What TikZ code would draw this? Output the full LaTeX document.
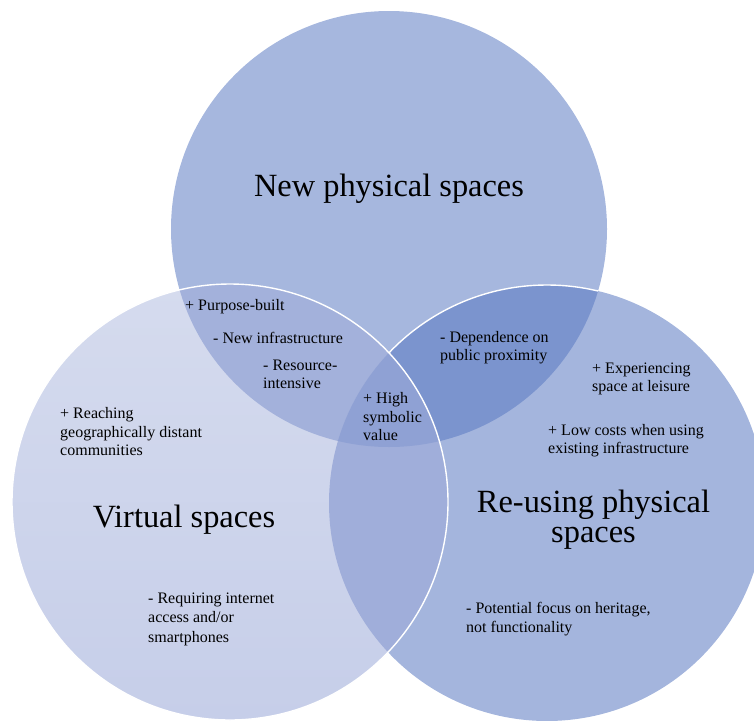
\documentclass[tikz,border=0pt]{standalone}
\usepackage{fontspec}
\setmainfont{Liberation Serif}
\definecolor{TopC}{RGB}{166,183,222}
\definecolor{RightC}{RGB}{164,181,221}
\definecolor{LeftTopC}{RGB}{213,219,238}
\definecolor{LeftBotC}{RGB}{198,206,233}
\definecolor{TLC}{RGB}{163,177,219}
\definecolor{TRC}{RGB}{123,148,206}
\definecolor{LRC}{RGB}{160,174,218}
\definecolor{CC}{RGB}{143,161,212}
\tikzset{
  small/.style={anchor=base west, inner sep=0pt, font=\fontsize{16}{18.5}\selectfont},
  big/.style={anchor=base, inner sep=0pt, font=\fontsize{32.4}{31}\selectfont},
  outline/.style={draw=white, line width=1.4pt}
}
\begin{document}
\begin{tikzpicture}[x=1pt,y=-1pt]
\useasboundingbox (0,0) rectangle (754,720);
\clip (0,0) rectangle (754,720);
\def\R{218}
\coordinate (T) at (389,229);
\coordinate (L) at (230,502);
\coordinate (Rc) at (547,503);
% base fills
\fill[TopC] (T) circle (\R);
\fill[RightC] (Rc) circle (\R);
\begin{scope}
  \clip (T) circle (\R);
  \fill[TRC] (Rc) circle (\R);
  \draw[outline] (Rc) circle (\R);
\end{scope}
\shade[top color=LeftTopC, bottom color=LeftBotC] (L) circle (\R);
\begin{scope}
  \clip (T) circle (\R);
  \fill[TLC] (L) circle (\R);
\end{scope}
\begin{scope}
  \clip (L) circle (\R);
  \fill[LRC] (Rc) circle (\R);
\end{scope}
\begin{scope}
  \clip (T) circle (\R);
  \clip (L) circle (\R);
  \fill[CC] (Rc) circle (\R);
\end{scope}
\draw[outline] (L) circle (\R);
% titles
\node[big] (tnew) at (389,196) {New physical spaces};
\node[big] (tvir) at (184,527) {Virtual spaces};
\node[big] (tre1) at (593.5,512) {Re-using physical};
\node[big] (tre2) at (593.5,542) {spaces};
% top-left overlap
\node[small] (pb) at (185,310) {+ Purpose-built};
\node[small] (ni) at (213,343) {- New infrastructure};
\node[small] (ri1) at (263,370) {- Resource-};
\node[small] (ri2) at (263,388) {intensive};
% centre
\node[small] (hs1) at (363,403) {+ High};
\node[small] (hs2) at (363,422) {symbolic};
\node[small] (hs3) at (363,440) {value};
% top-right overlap
\node[small] (dp1) at (440,342) {- Dependence on};
\node[small] (dp2) at (440,360) {public proximity};
% right
\node[small] (ex1) at (592,373) {+ Experiencing};
\node[small] (ex2) at (592,391) {space at leisure};
\node[small] (lc1) at (548,435) {+ Low costs when using};
\node[small] (lc2) at (548,453) {existing infrastructure};
\node[small] (pf1) at (466,613) {- Potential focus on heritage,};
\node[small] (pf2) at (466,632) {not functionality};
% left
\node[small] (rd1) at (60,418) {+ Reaching};
\node[small] (rd2) at (60,437) {geographically distant};
\node[small] (rd3) at (60,455) {communities};
\node[small] (ri3) at (148,603) {- Requiring internet};
\node[small] (ri4) at (148,622) {access and/or};
\node[small] (ri5) at (148,642) {smartphones};
\end{tikzpicture}
\end{document}
